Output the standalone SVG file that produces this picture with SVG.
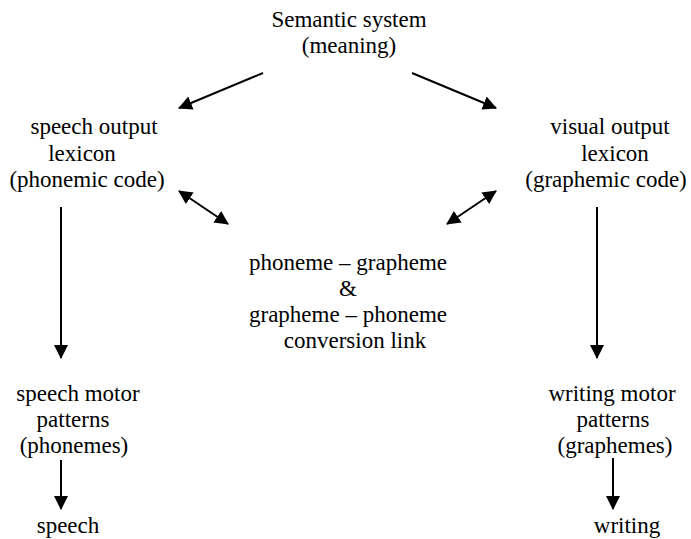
<svg xmlns="http://www.w3.org/2000/svg" width="691" height="539" viewBox="0 0 691 539">
  <style>
    .lbl text { font-size: 23px; fill: #000; text-anchor: middle; }
    .link { stroke: #000; stroke-width: 2; fill: none; }
  </style>
  <defs>
    <marker id="head" viewBox="0 0 14 14" refX="13" refY="7" markerWidth="14" markerHeight="14" markerUnits="userSpaceOnUse" orient="auto-start-reverse">
      <path d="M0,0 L14,7 L0,14 Z" fill="#000"/>
    </marker>
  </defs>
  <rect width="691" height="539" fill="#fff"/>

  <g class="lbl" font-family="'Liberation Serif', 'Times New Roman', 'DejaVu Serif', serif">
    <g id="semantic">
      <text x="349" y="27">Semantic system</text>
      <text x="349" y="53">(meaning)</text>
    </g>
    <g id="speech-lexicon">
      <text x="94" y="134">speech output</text>
      <text x="82" y="161">lexicon</text>
      <text x="87" y="187">(phonemic code)</text>
    </g>
    <g id="visual-lexicon">
      <text x="610" y="134">visual output</text>
      <text x="615" y="161">lexicon</text>
      <text x="606" y="187">(graphemic code)</text>
    </g>
    <g id="conversion">
      <text x="348" y="270">phoneme – grapheme</text>
      <text x="348" y="296">&amp;</text>
      <text x="348" y="322">grapheme – phoneme</text>
      <text x="355" y="348">conversion link</text>
    </g>
    <g id="speech-motor">
      <text x="78" y="401">speech motor</text>
      <text x="73" y="427">patterns</text>
      <text x="74" y="453">(phonemes)</text>
    </g>
    <g id="writing-motor">
      <text x="612" y="401">writing motor</text>
      <text x="613" y="427">patterns</text>
      <text x="615" y="453">(graphemes)</text>
    </g>
    <g id="speech">
      <text x="68" y="533">speech</text>
    </g>
    <g id="writing">
      <text x="627" y="533">writing</text>
    </g>
  </g>

  <g id="connectors">
    <line class="link" x1="263" y1="73" x2="179" y2="108" marker-end="url(#head)"/>
    <line class="link" x1="412" y1="73" x2="496" y2="108" marker-end="url(#head)"/>
    <line class="link" x1="179" y1="191" x2="228" y2="224" marker-start="url(#head)" marker-end="url(#head)"/>
    <line class="link" x1="496" y1="191" x2="447" y2="224" marker-start="url(#head)" marker-end="url(#head)"/>
    <line class="link" x1="61" y1="207" x2="61" y2="358" marker-end="url(#head)"/>
    <line class="link" x1="597" y1="207" x2="597" y2="358" marker-end="url(#head)"/>
    <line class="link" x1="61" y1="460" x2="61" y2="509" marker-end="url(#head)"/>
    <line class="link" x1="613" y1="458" x2="613" y2="509" marker-end="url(#head)"/>
  </g>
</svg>
